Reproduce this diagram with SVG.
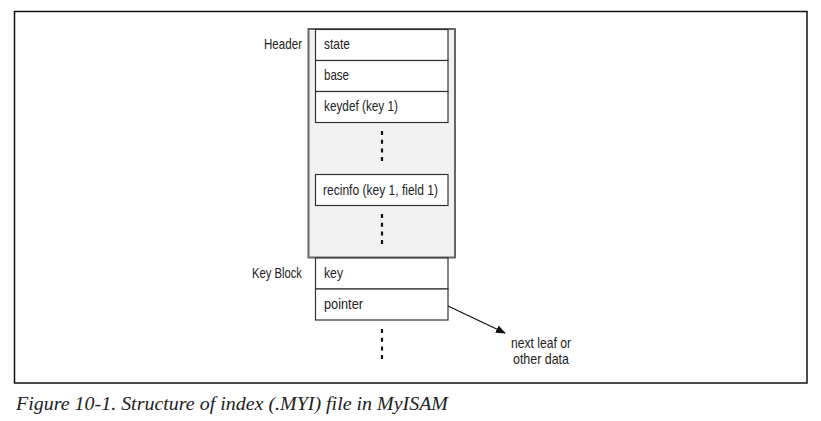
<svg xmlns="http://www.w3.org/2000/svg" width="821" height="421" viewBox="0 0 821 421">
<style>
  .lbl{font-family:"Liberation Sans",Arial,sans-serif;font-size:14.5px;fill:#222;}
  .cell{fill:#fff;stroke:#333;stroke-width:1.2;}
  .dots{stroke:#111;stroke-width:2.2;stroke-dasharray:4 4.7;fill:none;}
  .cap{font-family:"Liberation Serif","Times New Roman",serif;font-style:italic;font-size:19.5px;fill:#222;}
</style>
<defs>
  <marker id="ah" viewBox="0 0 10 10" refX="9" refY="5" markerWidth="10" markerHeight="10" markerUnits="userSpaceOnUse" orient="auto">
    <path d="M0,1 L10,5 L0,9 Z" fill="#111"/>
  </marker>
</defs>
<rect x="0" y="0" width="821" height="421" fill="#fff"/>
<rect id="frame" x="14.5" y="11.5" width="792.5" height="371.5" fill="none" stroke="#111" stroke-width="1.5"/>
<g id="header">
  <rect x="308.5" y="29" width="146.5" height="228.5" fill="#f2f2f2" stroke="#666" stroke-width="2"/>
  <text class="lbl" x="264" y="49" textLength="38" lengthAdjust="spacingAndGlyphs">Header</text>
</g>
<g id="state"><rect class="cell" x="315.5" y="29.5" width="132.5" height="31"/><text class="lbl" x="324" y="49" textLength="26" lengthAdjust="spacingAndGlyphs">state</text></g>
<g id="base"><rect class="cell" x="315.5" y="60.5" width="132.5" height="31"/><text class="lbl" x="324" y="80" textLength="25" lengthAdjust="spacingAndGlyphs">base</text></g>
<g id="keydef"><rect class="cell" x="315.5" y="91.5" width="132.5" height="31"/><text class="lbl" x="324" y="111" textLength="74" lengthAdjust="spacingAndGlyphs">keydef (key 1)</text></g>
<g id="recinfo"><rect class="cell" x="315.5" y="174.5" width="132.5" height="31"/><text class="lbl" x="323" y="195" textLength="115" lengthAdjust="spacingAndGlyphs">recinfo (key 1, field 1)</text></g>
<g id="keyblock">
  <text class="lbl" x="252" y="278" textLength="50" lengthAdjust="spacingAndGlyphs">Key Block</text>
</g>
<g id="key"><rect class="cell" x="315.5" y="258" width="132.5" height="31"/><text class="lbl" x="324" y="278" textLength="19" lengthAdjust="spacingAndGlyphs">key</text></g>
<g id="pointer"><rect class="cell" x="315.5" y="289" width="132.5" height="31"/><text class="lbl" x="324" y="309" textLength="39" lengthAdjust="spacingAndGlyphs">pointer</text></g>
<g id="next">
  <text class="lbl" x="511" y="348" textLength="60" lengthAdjust="spacingAndGlyphs">next leaf or</text>
  <text class="lbl" x="513" y="364" textLength="56" lengthAdjust="spacingAndGlyphs">other data</text>
</g>
<g id="connectors">
  <line class="dots" x1="382" y1="131" x2="382" y2="162"/>
  <line class="dots" x1="382" y1="214" x2="382" y2="245"/>
  <line class="dots" x1="382" y1="329" x2="382" y2="360"/>
  <line x1="448" y1="306" x2="505" y2="333" stroke="#111" stroke-width="1.2" marker-end="url(#ah)"/>
</g>
<text class="cap" x="16" y="410" textLength="432" lengthAdjust="spacingAndGlyphs">Figure 10-1. Structure of index (.MYI) file in MyISAM</text>
</svg>
